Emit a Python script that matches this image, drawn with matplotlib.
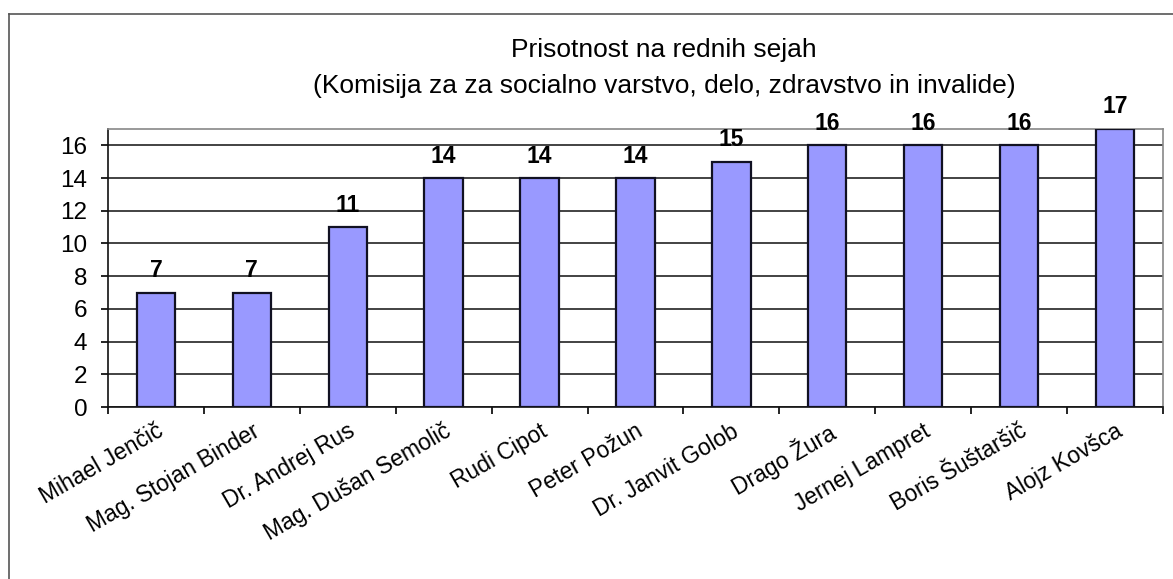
import matplotlib
matplotlib.use("Agg")
import matplotlib.pyplot as plt
from matplotlib.lines import Line2D

names = ["Mihael Jenčič", "Mag. Stojan Binder", "Dr. Andrej Rus", "Mag. Dušan Semolič",
         "Rudi Cipot", "Peter Požun", "Dr. Janvit Golob", "Drago Žura",
         "Jernej Lampret", "Boris Šuštaršič", "Alojz Kovšca"]
values = [7, 7, 11, 14, 14, 14, 15, 16, 16, 16, 17]
yticks = [0, 2, 4, 6, 8, 10, 12, 14, 16]
title1 = "Prisotnost na rednih sejah"
title2 = "(Komisija za za socialno varstvo, delo, zdravstvo in invalide)"

W, H = 1173, 579
plt.rcParams['font.family'] = ['Liberation Sans', 'DejaVu Sans']
fig = plt.figure(figsize=(W / 100, H / 100), dpi=100)
# outer chart border (left and top visible)
fig.add_artist(Line2D([9 / W, 9 / W], [0, 1 - 14 / H], transform=fig.transFigure, color='#555555', lw=1.2))
fig.add_artist(Line2D([9 / W, 1], [1 - 14 / H, 1 - 14 / H], transform=fig.transFigure, color='#555555', lw=1.2))

ax = fig.add_axes([108 / W, 1 - 407 / H, 1055 / W, (407 - 129) / H])
x = list(range(len(values)))
ax.bar(x, values, width=0.4, color='#9999FF', edgecolor='#111122', linewidth=1.6, zorder=3)
for xi, v in zip(x, values):
    ax.text(xi, v + 0.95, str(v), ha='center', va='baseline', fontsize=16.5, fontweight='bold')
ax.set_xlim(-0.5, len(values) - 0.5)
ax.set_ylim(0, 17)
ax.set_yticks(yticks)
ax.set_yticklabels([str(t) for t in yticks], fontsize=17.5)
ax.yaxis.grid(True, color='#222222', lw=1.2, zorder=0)
ax.set_axisbelow(True)
ax.set_xticks([i - 0.5 for i in range(len(values) + 1)], minor=False)
ax.set_xticklabels([])
ax.set_xticks(x, minor=True)
ax.set_xticklabels(names, minor=True, rotation=30, ha='right', va='top',
                   rotation_mode='anchor', fontsize=16.5)
ax.tick_params(axis='x', which='minor', length=0, pad=9)
ax.tick_params(axis='x', which='major', length=5, direction='out', width=1.2)
ax.tick_params(axis='y', length=5, direction='out', pad=10, width=1.2)
for s in ['top', 'right']:
    ax.spines[s].set_color('#888888')
    ax.spines[s].set_linewidth(1.2)
for s in ['left', 'bottom']:
    ax.spines[s].set_color('#111111')
    ax.spines[s].set_linewidth(1.2)
fig.text(664 / W, 1 - 57 / H, title1, ha='center', va='baseline', fontsize=19)
fig.text(664 / W, 1 - 93 / H, title2, ha='center', va='baseline', fontsize=19)
fig.savefig("out.png", dpi=100)
